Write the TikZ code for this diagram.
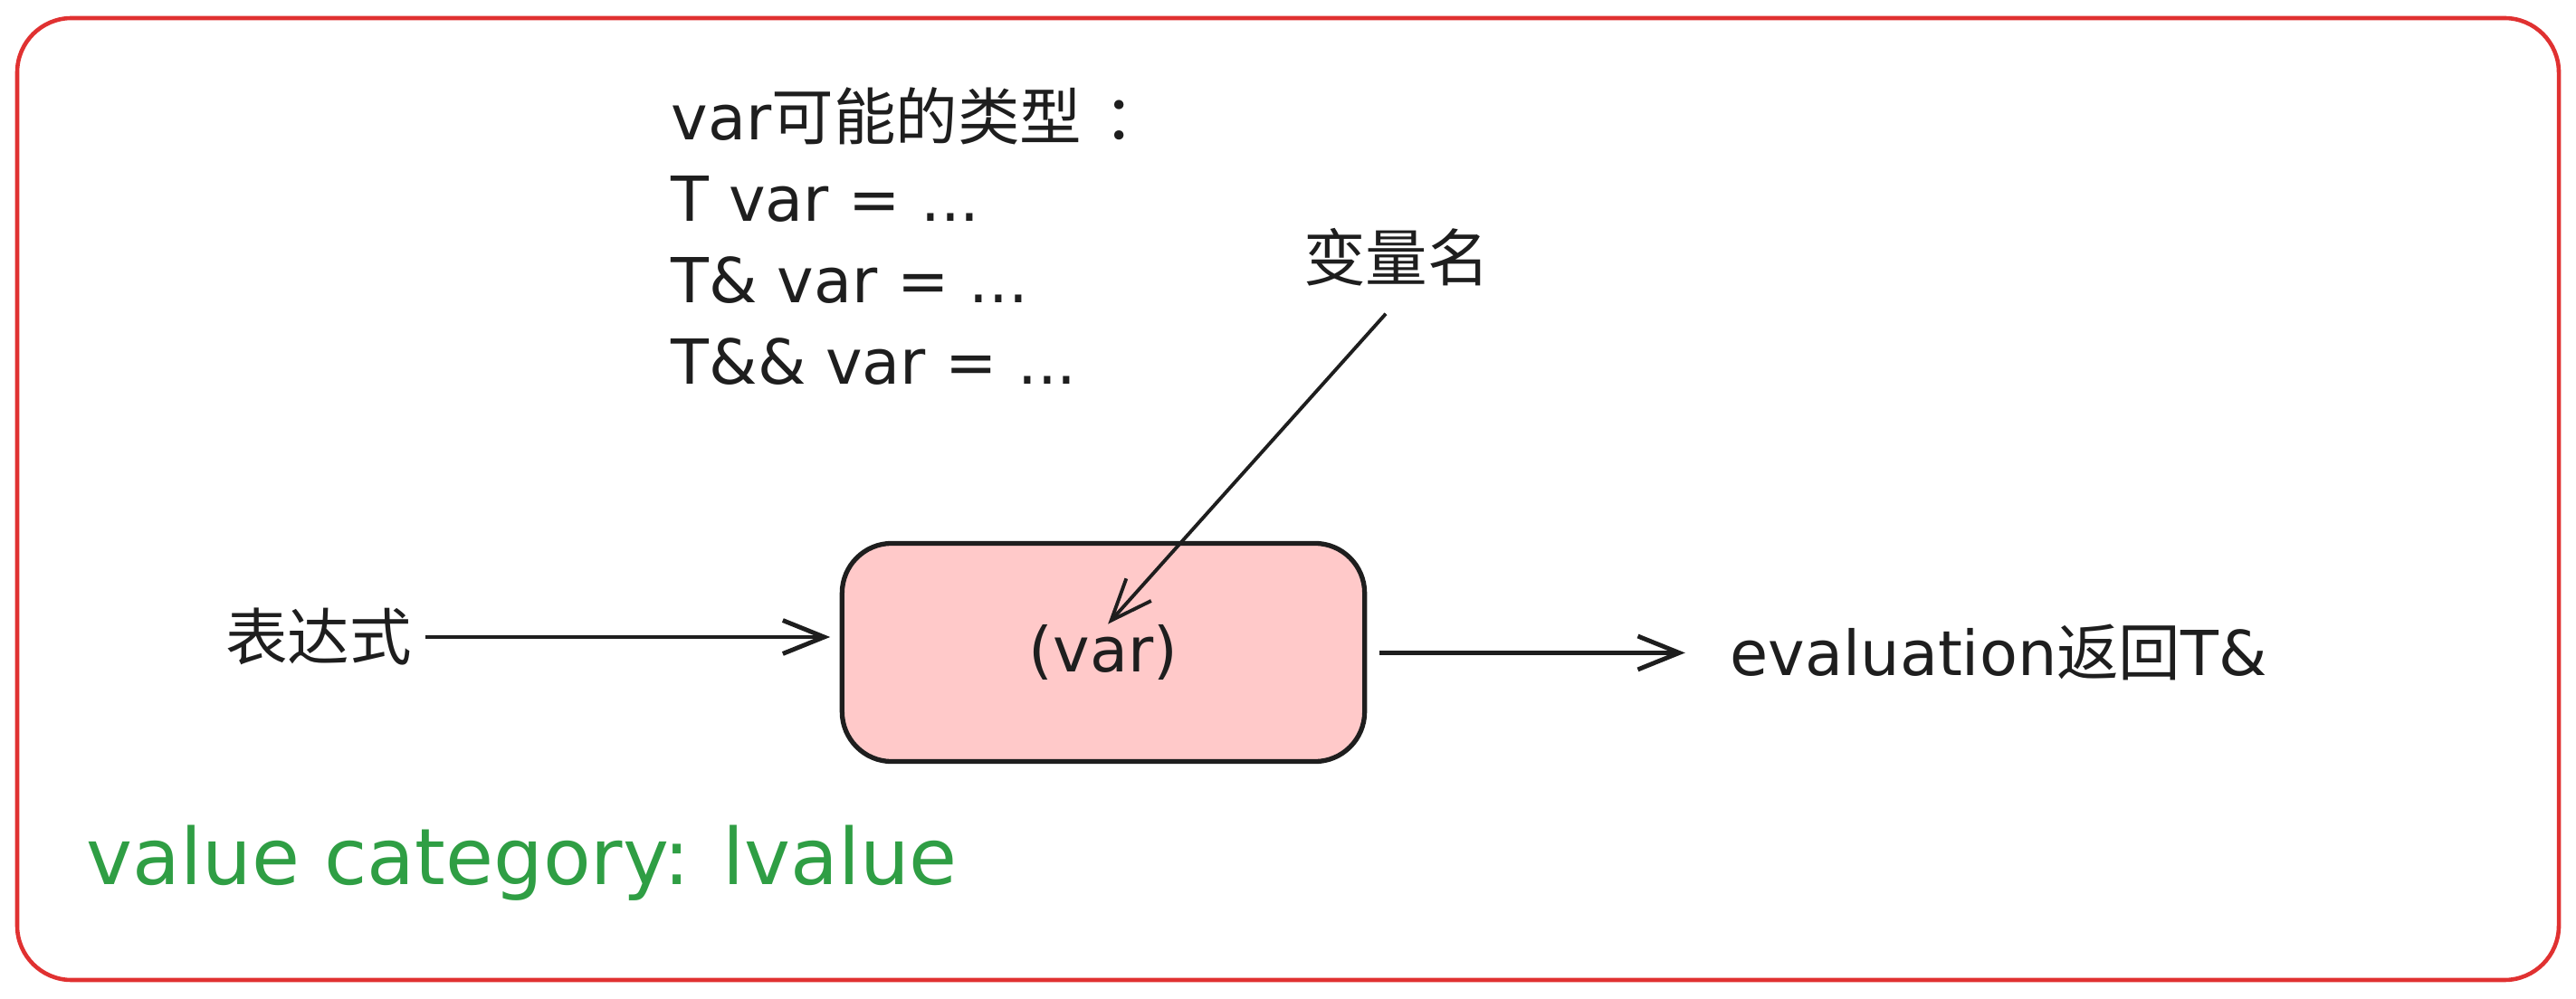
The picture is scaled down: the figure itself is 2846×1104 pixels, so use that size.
\documentclass[tikz,border=0pt]{standalone}
\usepackage{fontspec}
\setmainfont{DejaVu Sans}
\newfontfamily\cjk{Noto Sans CJK SC}
\usepackage{xcolor}
\usepackage{tikz}
\usetikzlibrary{arrows.meta, positioning}

\definecolor{framered}{HTML}{E03131}
\definecolor{boxpink}{HTML}{FFC9C9}
\definecolor{inkblack}{HTML}{1E1E1E}
\definecolor{catgreen}{HTML}{2F9E44}

\tikzset{
    lbl/.style={inner sep=0pt, text=inkblack, font=\fontsize{19.5}{23}\selectfont},
    box/.style={draw=inkblack, fill=boxpink, line width=1.5pt, rounded corners=0.55cm,
        minimum width=5.77cm, minimum height=2.41cm, inner sep=0pt,
        text=inkblack, font=\fontsize{19.5}{23}\selectfont},
    arr/.style={-{Straight Barb[length=13pt,width=10.5pt]}, draw=inkblack, line width=1.4pt},
}

\begin{document}
\begin{tikzpicture}[x=0.01cm, y=-0.01cm]
    \useasboundingbox (0,0) rectangle (2846,1104);
    \draw[framered, line width=1.3pt, rounded corners=0.6cm] (19,20) rectangle (2827,1083);

    \node[lbl, anchor=base west] (types) at (741,155) {var{\cjk 可能的类型}\kern0.35em{\cjk ：}};
    \node[lbl, anchor=base west] (tval) at (741,245) {T var = ...};
    \node[lbl, anchor=base west] (tref) at (741,335) {T\& var = ...};
    \node[lbl, anchor=base west] (trref) at (741,425) {T\&\& var = ...};
    \node[lbl] (name) at (1543,284) {\cjk 变量名};
    \node[lbl] (expr) at (352,704) {\cjk 表达式};
    \node[box] (box) at (1219,721) {(var)};
    \node[lbl, anchor=base west] (eval) at (1911,747) {evaluation{\cjk 返回}T\&};
    \node[lbl, anchor=base west, text=catgreen, font=\fontsize{24.5}{29}\selectfont] (cat) at (95,977) {value category: lvalue};

    \draw[arr, shorten <=4pt, shorten >=3pt] (expr.east) -- (box.west |- expr.east);
    \draw[arr, shorten <=4pt, shorten >=14pt] (box.east |- eval.west) -- (eval.west);
    \draw[arr, line width=1.1pt, shorten <=11.5pt, shorten >=12pt] ([xshift=0.15cm]name.south) -- ([xshift=-0.23cm]box.center);
\end{tikzpicture}
\end{document}
